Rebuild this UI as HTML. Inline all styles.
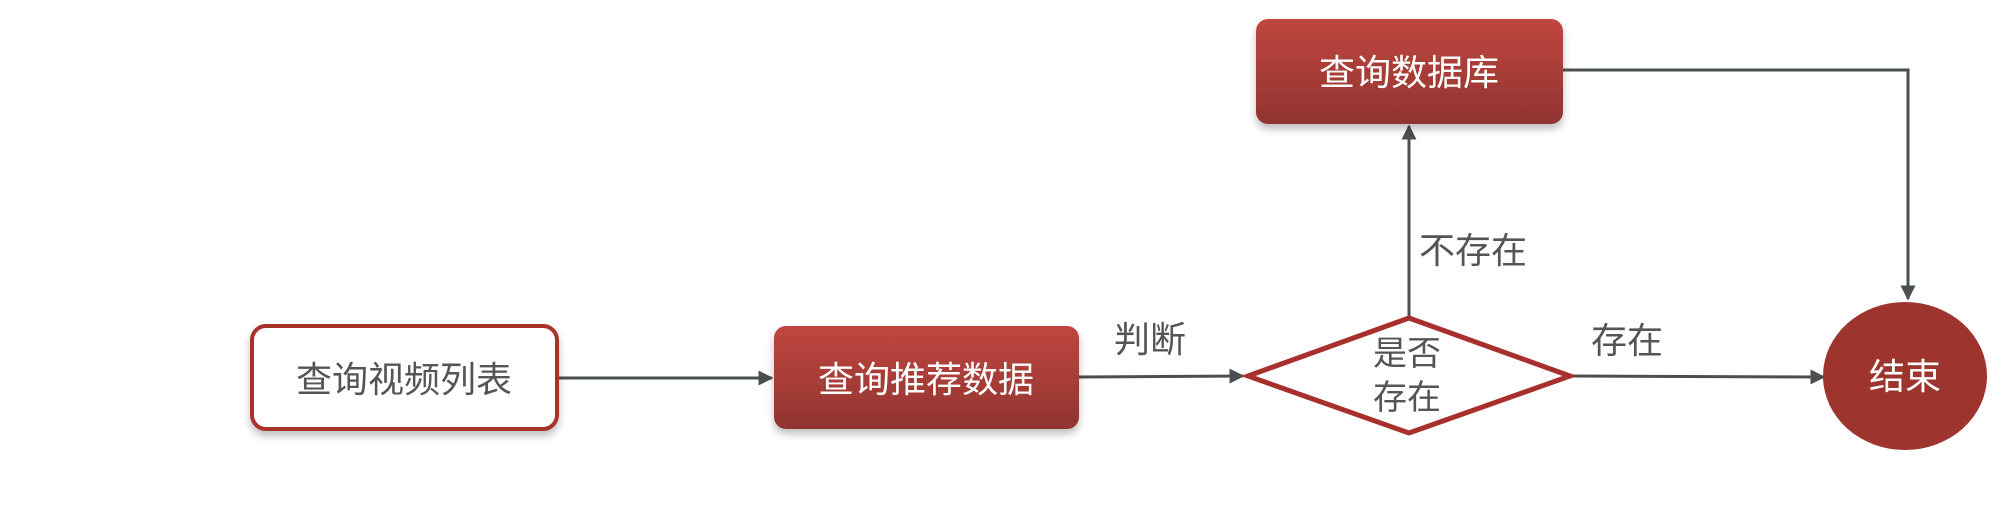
<!DOCTYPE html>
<html><head><meta charset="utf-8"><style>
html,body{margin:0;padding:0;background:#fff;}
svg text{font-family:"Liberation Sans","Noto Sans CJK SC",sans-serif;}
</style></head><body>
<svg width="2012" height="500" viewBox="0 0 2012 500" xmlns="http://www.w3.org/2000/svg">
<defs>
<linearGradient id="rg" x1="0" y1="0" x2="0" y2="1">
<stop offset="0" stop-color="#c0463f"/><stop offset="1" stop-color="#913430"/>
</linearGradient>
<filter id="sh" x="-10%" y="-10%" width="120%" height="130%"><feDropShadow dx="0" dy="5" stdDeviation="4" flood-color="#000" flood-opacity="0.25"/></filter>
<marker id="ar" viewBox="0 0 10 10" refX="9" refY="5" markerWidth="5" markerHeight="5" orient="auto"><path d="M0,0 L10,5 L0,10 z" fill="#4a4f4f"/></marker>
</defs>
<g stroke="#4a4f4f" stroke-width="3" fill="none">
<line x1="557" y1="378" x2="772" y2="378" marker-end="url(#ar)"/>
<line x1="1078" y1="377" x2="1243" y2="376" marker-end="url(#ar)"/>
<line x1="1572" y1="376" x2="1824" y2="377" marker-end="url(#ar)"/>
<line x1="1409" y1="318" x2="1409" y2="126" marker-end="url(#ar)"/>
<polyline points="1562,70 1908,70 1908,299" marker-end="url(#ar)"/>
</g>
<rect x="252" y="326" width="305" height="103" rx="14" fill="#fff" stroke="#a8302c" stroke-width="4" filter="url(#sh)"/>
<text x="404" y="392" font-size="36" fill="#555" text-anchor="middle">查询视频列表</text>
<rect x="774" y="326" width="305" height="103" rx="12" fill="url(#rg)" filter="url(#sh)"/>
<text x="926" y="392" font-size="36" fill="#fff" text-anchor="middle">查询推荐数据</text>
<rect x="1256" y="19" width="307" height="105" rx="12" fill="url(#rg)" filter="url(#sh)"/>
<text x="1409" y="85" font-size="36" fill="#fff" text-anchor="middle">查询数据库</text>
<polygon points="1409,318 1570,376 1409,433 1248,376" fill="#fff" stroke="#a8302c" stroke-width="5"/>
<text x="1407" y="365" font-size="34" fill="#555" text-anchor="middle">是否</text>
<text x="1407" y="409" font-size="34" fill="#555" text-anchor="middle">存在</text>
<ellipse cx="1905" cy="376" rx="82" ry="74" fill="#9e342e"/>
<text x="1905" y="389" font-size="36" fill="#fff" text-anchor="middle">结束</text>
<text x="1150" y="352" font-size="36" fill="#555" text-anchor="middle">判断</text>
<text x="1473" y="263" font-size="36" fill="#555" text-anchor="middle">不存在</text>
<text x="1627" y="353" font-size="36" fill="#555" text-anchor="middle">存在</text>
</svg>
</body></html>
